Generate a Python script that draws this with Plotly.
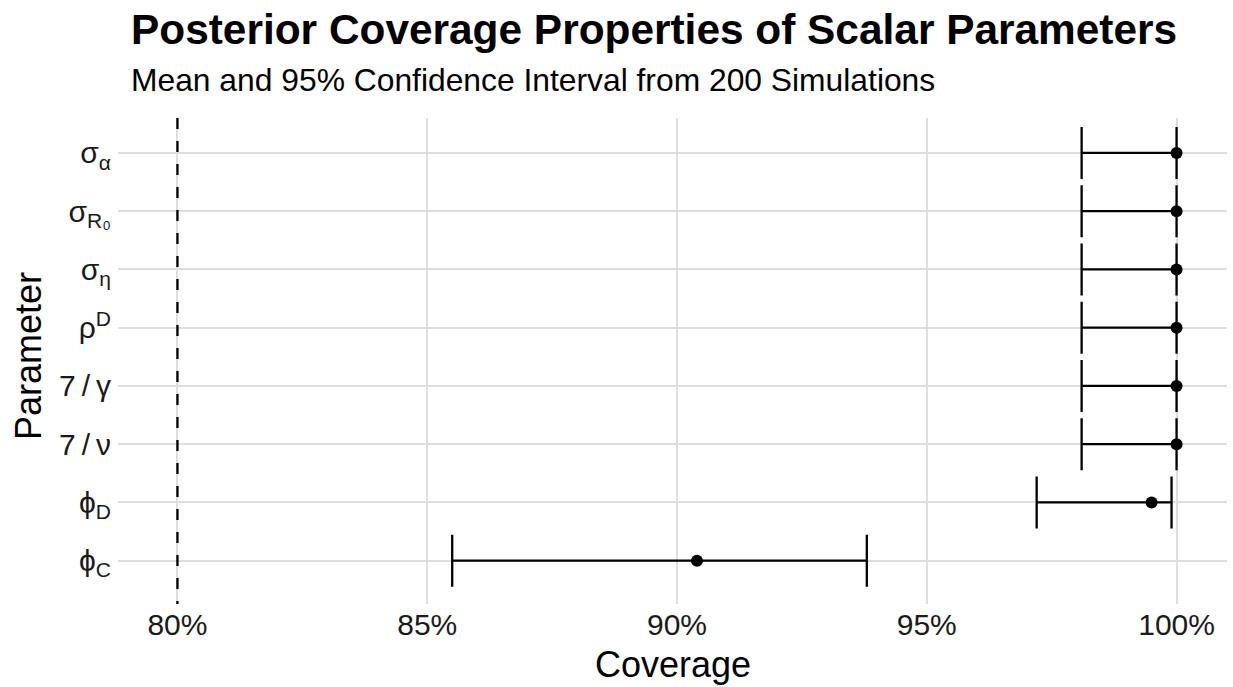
import plotly.graph_objects as go

# ---- data (coverage in %) ----
params = ["sigma_alpha", "sigma_R0", "sigma_eta", "rho_D", "7/gamma", "7/nu", "phi_D", "phi_C"]
param_labels = ["σ<sub>α</sub>", "σ<sub>R₀</sub>", "σ<sub>η</sub>", "ρ<sup>D</sup>",
                "7\u2009/\u2009γ", "7\u2009/\u2009ν", "ϕ<sub>D</sub>", "ϕ<sub>C</sub>"]
coverage_mean = [100.0, 100.0, 100.0, 100.0, 100.0, 100.0, 99.5, 90.4]
coverage_lower = [98.1, 98.1, 98.1, 98.1, 98.1, 98.1, 97.2, 85.5]
coverage_upper = [100.0, 100.0, 100.0, 100.0, 100.0, 100.0, 99.9, 93.8]
x_ticks = [80, 85, 90, 95, 100]
x_tick_labels = ["80%", "85%", "90%", "95%", "100%"]
nominal_level = 80

FONT = "Liberation Sans, Arial, Helvetica, sans-serif"

err_plus = [u - m for u, m in zip(coverage_upper, coverage_mean)]
err_minus = [m - l for m, l in zip(coverage_mean, coverage_lower)]

fig = go.Figure()
fig.add_trace(go.Scatter(
    x=coverage_mean, y=params, mode="markers",
    marker=dict(color="black", size=12),
    error_x=dict(type="data", symmetric=False, array=err_plus, arrayminus=err_minus,
                 color="black", thickness=2.3, width=26),
    showlegend=False, hoverinfo="x+y",
))

fig.add_shape(type="line", xref="x", yref="paper", x0=nominal_level, x1=nominal_level,
              y0=1, y1=0, line=dict(color="black", width=2.3, dash="11px,12px"), layer="above")

L, R, T, B = 118, 6, 118, 83
W, H = 1233, 687
ph = H - T - B
pw = W - L - R

def py(Y):
    return (H - B - Y) / ph

def px(X):
    return (X - L) / pw

fig.update_layout(
    width=W, height=H,
    margin=dict(l=L, r=R, t=T, b=B, pad=0),
    paper_bgcolor="white", plot_bgcolor="white",
    font=dict(family=FONT, color="black"),
    xaxis=dict(range=[78.81, 101.01], tickvals=x_ticks, ticktext=x_tick_labels,
               showgrid=True, gridcolor="#DEDEDE", gridwidth=2, zeroline=False,
               showline=False, ticks="", automargin=False,
               tickfont=dict(size=30, color="#1a1a1a")),
    yaxis=dict(type="category", categoryorder="array", categoryarray=params,
               tickvals=params, ticktext=param_labels, range=[7.744, -0.6],
               showgrid=True, gridcolor="#DEDEDE", gridwidth=2, zeroline=False,
               showline=False, ticks="", automargin=False, ticklabelstandoff=6,
               tickfont=dict(size=30, color="#1a1a1a")),
    annotations=[
        dict(text="<b>Posterior Coverage Properties of Scalar Parameters</b>",
             xref="paper", yref="paper", x=px(129), y=py(30), xanchor="left", yanchor="middle",
             showarrow=False, font=dict(size=42.4, color="black", family=FONT)),
        dict(text="Mean and 95% Confidence Interval from 200 Simulations",
             xref="paper", yref="paper", x=px(129), y=py(80), xanchor="left", yanchor="middle",
             showarrow=False, font=dict(size=31.8, color="black", family=FONT)),
        dict(text="Coverage", xref="paper", yref="paper", x=0.5, y=py(664),
             xanchor="center", yanchor="middle", showarrow=False,
             font=dict(size=36, color="black", family=FONT)),
        dict(text="Parameter", xref="paper", yref="paper", x=px(28), y=py(356),
             xanchor="center", yanchor="middle", textangle=-90, showarrow=False,
             font=dict(size=36, color="black", family=FONT)),
    ],
)

fig.write_html("out.html", config={"displayModeBar": False},
               post_script="document.body.style.margin='0';")
